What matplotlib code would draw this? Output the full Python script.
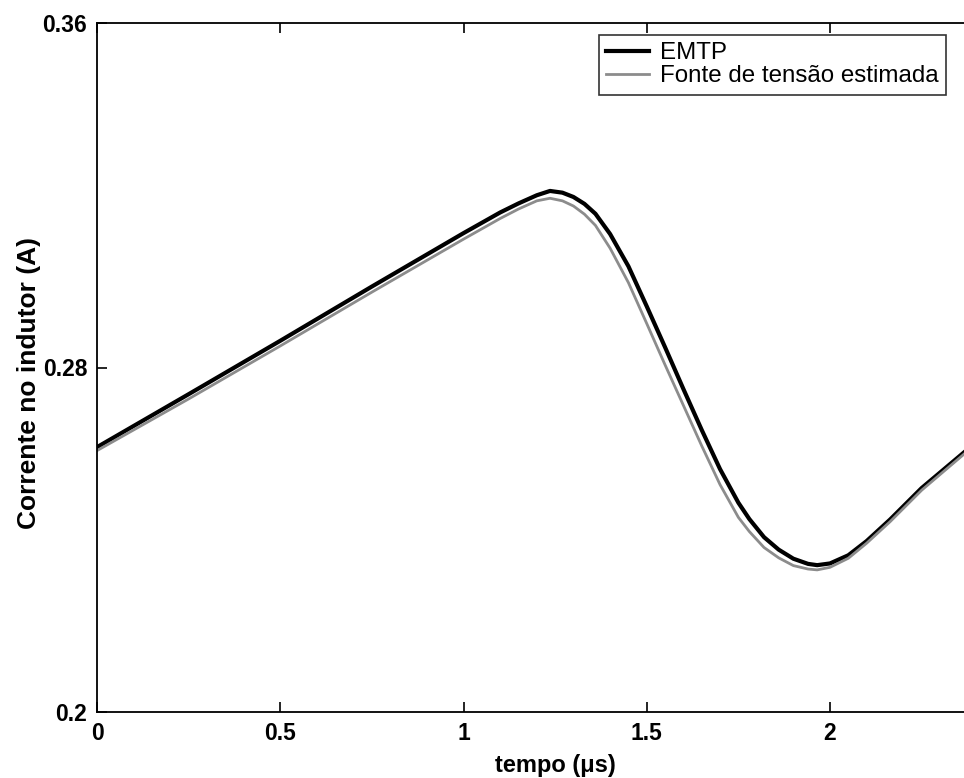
import numpy as np
import matplotlib
matplotlib.use('Agg')
import matplotlib.pyplot as plt

plt.rcParams['font.family'] = ['Liberation Sans', 'DejaVu Sans']

# tempo (us) and corrente (A)
t_emtp = [0.0, 0.25, 0.5, 0.75, 1.0, 1.1, 1.15, 1.2, 1.236, 1.27, 1.3, 1.33, 1.36, 1.4, 1.45, 1.5,
          1.55, 1.6, 1.65, 1.7, 1.75, 1.78, 1.82, 1.86, 1.9, 1.94, 1.965, 2.0, 2.05, 2.1, 2.164,
          2.25, 2.37]
i_emtp = [0.2615, 0.2738, 0.2862, 0.2988, 0.3112, 0.3160, 0.3181, 0.3200, 0.3210, 0.3206, 0.3196,
          0.3180, 0.3157, 0.3110, 0.3035, 0.2942, 0.2847, 0.2750, 0.2655, 0.2564, 0.2486, 0.2448,
          0.2406, 0.2377, 0.2356, 0.2344, 0.2341, 0.2345, 0.2364, 0.2397, 0.2447, 0.2520, 0.2606]

t_est = [0.0, 0.25, 0.5, 0.75, 1.0, 1.1, 1.15, 1.2, 1.236, 1.27, 1.3, 1.33, 1.36, 1.4, 1.45, 1.5,
         1.55, 1.6, 1.65, 1.7, 1.75, 1.78, 1.82, 1.86, 1.9, 1.94, 1.965, 2.0, 2.05, 2.1, 2.164,
         2.25, 2.37]
i_est = [0.2607, 0.2727, 0.2850, 0.2975, 0.3098, 0.3146, 0.3168, 0.3187, 0.3193, 0.3187, 0.3175,
         0.3156, 0.3130, 0.3077, 0.2997, 0.2902, 0.2806, 0.2712, 0.2618, 0.2528, 0.2452, 0.2419,
         0.2382, 0.2358, 0.2340, 0.2332, 0.2330, 0.2336, 0.2357, 0.2392, 0.2442, 0.2515, 0.2602]

xticks = [0, 0.5, 1, 1.5, 2]
xtick_labels = ['0', '0.5', '1', '1.5', '2']
yticks = [0.2, 0.28, 0.36]
ytick_labels = ['0.2', '0.28', '0.36']

fig = plt.figure(figsize=(9.64, 7.78), dpi=100)
# axes run past the right edge, as in the cropped scan
ax = fig.add_axes([97/964, 66/778, 2.5*366.5/964, 689/778])

ax.plot(t_emtp, i_emtp, color='black', lw=3.0, label='EMTP')
ax.plot(t_est, i_est, color='#8c8c8c', lw=2.0, label='Fonte de tensão estimada')

ax.set_xlim(0, 2.5)
ax.set_ylim(0.2, 0.36)
ax.set_xticks(xticks)
ax.set_xticklabels(xtick_labels)
ax.set_yticks(yticks)
ax.set_yticklabels(ytick_labels)
ax.tick_params(direction='in', length=7, width=1.2, top=True, right=True,
               labelsize=16.5, pad=7)
for lab in ax.get_xticklabels() + ax.get_yticklabels():
    lab.set_fontweight('bold')
for s in ax.spines.values():
    s.set_linewidth(1.3)

ax.set_xlabel('tempo (\u03bcs)', fontsize=17, fontweight='bold', labelpad=7)
ax.set_ylabel('Corrente no indutor (A)', fontsize=19, fontweight='bold', va='center')
ax.yaxis.set_label_coords(29/964, 1 - 383/778, transform=fig.transFigure)

leg = ax.legend(loc='upper right', bbox_to_anchor=(946/964, 1-35/778),
                bbox_transform=fig.transFigure, fontsize=17.4, frameon=True,
                fancybox=False, edgecolor='black', handlelength=1.8,
                borderpad=0.3, labelspacing=0.05, handletextpad=0.45, borderaxespad=0)
leg.get_frame().set_linewidth(1.2)

fig.savefig('out.png', dpi=100)
